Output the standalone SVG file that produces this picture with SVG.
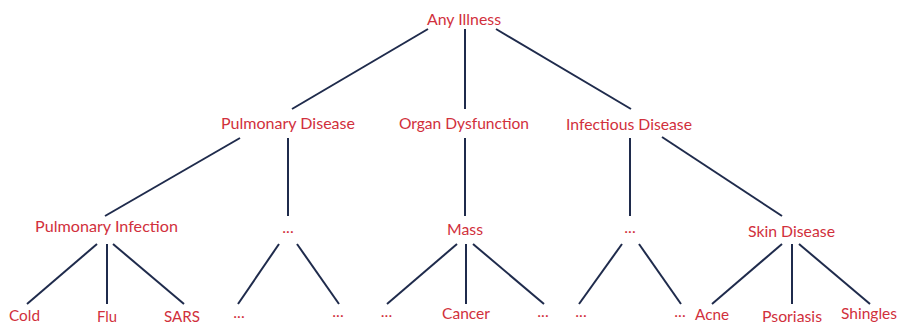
<svg xmlns="http://www.w3.org/2000/svg" width="898" height="325" viewBox="0 0 898 325">
<style>
text{font-family:Lato,"Open Sans","Liberation Sans",sans-serif;font-size:16px;fill:#d1303c;text-anchor:middle}
.c line{stroke:#1f2b4c;stroke-width:2;stroke-linecap:butt}
</style>
<rect width="898" height="325" fill="#ffffff"/>
<g class="c" id="connectors">
<line x1="428" y1="29" x2="292" y2="109"/>
<line x1="465" y1="29" x2="465" y2="109"/>
<line x1="496" y1="29" x2="631" y2="109"/>
<line x1="240" y1="138" x2="105" y2="216"/>
<line x1="288" y1="138" x2="288" y2="216"/>
<line x1="465" y1="138" x2="465" y2="216"/>
<line x1="630" y1="138" x2="630" y2="216"/>
<line x1="662" y1="137" x2="782" y2="216"/>
<line x1="97" y1="244" x2="27" y2="304"/>
<line x1="107" y1="244" x2="107" y2="304"/>
<line x1="113" y1="244" x2="184" y2="304"/>
<line x1="279" y1="244" x2="238" y2="304"/>
<line x1="297" y1="244" x2="339" y2="304"/>
<line x1="457" y1="244" x2="387" y2="304"/>
<line x1="466" y1="244" x2="466" y2="304"/>
<line x1="473" y1="244" x2="544" y2="304"/>
<line x1="622" y1="244" x2="579" y2="304"/>
<line x1="639" y1="244" x2="681" y2="304"/>
<line x1="782" y1="244" x2="712" y2="304"/>
<line x1="792" y1="244" x2="792" y2="304"/>
<line x1="799" y1="244" x2="870" y2="304"/>
</g>
<g id="n-any"><text x="464" y="25" textLength="74" lengthAdjust="spacingAndGlyphs">Any Illness</text></g>
<g id="n-pulmonary-disease"><text x="288" y="129" textLength="134" lengthAdjust="spacingAndGlyphs">Pulmonary Disease</text></g>
<g id="n-organ"><text x="464" y="129" textLength="130" lengthAdjust="spacingAndGlyphs">Organ Dysfunction</text></g>
<g id="n-infectious"><text x="629" y="130" textLength="126" lengthAdjust="spacingAndGlyphs">Infectious Disease</text></g>
<g id="n-pulmonary-infection"><text x="106.5" y="232" textLength="143" lengthAdjust="spacingAndGlyphs">Pulmonary Infection</text></g>
<g id="n-dots1"><text x="288" y="233">...</text></g>
<g id="n-mass"><text x="465" y="235" textLength="36" lengthAdjust="spacingAndGlyphs">Mass</text></g>
<g id="n-dots2"><text x="630" y="233">...</text></g>
<g id="n-skin"><text x="791.5" y="237" textLength="87" lengthAdjust="spacingAndGlyphs">Skin Disease</text></g>
<g id="n-cold"><text x="24.5" y="321" textLength="31" lengthAdjust="spacingAndGlyphs">Cold</text></g>
<g id="n-flu"><text x="107" y="322" textLength="20" lengthAdjust="spacingAndGlyphs">Flu</text></g>
<g id="n-sars"><text x="182" y="322" textLength="36" lengthAdjust="spacingAndGlyphs">SARS</text></g>
<g id="n-dots3"><text x="239" y="318">...</text></g>
<g id="n-dots4"><text x="338" y="317">...</text></g>
<g id="n-dots5"><text x="386.5" y="317">...</text></g>
<g id="n-cancer"><text x="466" y="319" textLength="48" lengthAdjust="spacingAndGlyphs">Cancer</text></g>
<g id="n-dots6"><text x="543" y="317">...</text></g>
<g id="n-dots7"><text x="581" y="317">...</text></g>
<g id="n-dots8"><text x="680" y="317">...</text></g>
<g id="n-acne"><text x="712" y="320" textLength="34" lengthAdjust="spacingAndGlyphs">Acne</text></g>
<g id="n-psoriasis"><text x="792" y="322" textLength="60" lengthAdjust="spacingAndGlyphs">Psoriasis</text></g>
<g id="n-shingles"><text x="869" y="319" textLength="56" lengthAdjust="spacingAndGlyphs">Shingles</text></g>
</svg>
